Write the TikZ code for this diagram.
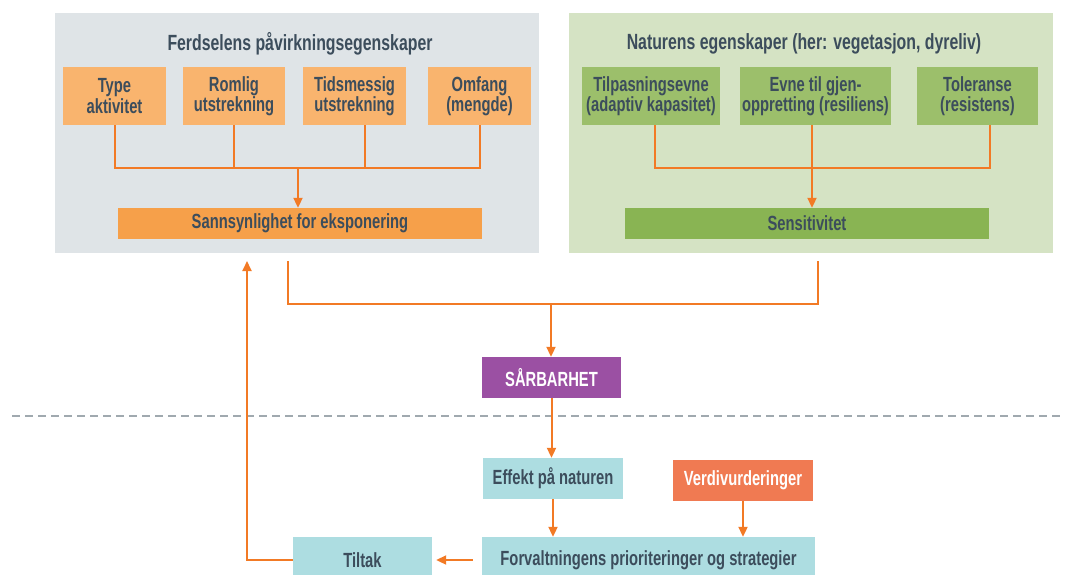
\documentclass[tikz,border=0pt]{standalone}
\usepackage{fontspec}
\setmainfont{Liberation Sans}[FakeStretch=0.72]
\usetikzlibrary{arrows.meta, positioning, calc}

\definecolor{panelgray}{HTML}{DFE4E7}
\definecolor{panelgreen}{HTML}{D5E3C4}
\definecolor{orlight}{HTML}{F9B46E}
\definecolor{orstrong}{HTML}{F6A04A}
\definecolor{grlight}{HTML}{9CBF6B}
\definecolor{grstrong}{HTML}{89B453}
\definecolor{lineor}{HTML}{F27A25}
\definecolor{sarbpurple}{HTML}{9B50A3}
\definecolor{tealbox}{HTML}{ADDDE1}
\definecolor{coral}{HTML}{F07A52}
\definecolor{textgray}{HTML}{3C4D5C}
\definecolor{dashgray}{HTML}{A0A9AF}

\begin{document}
\begin{tikzpicture}[x=1pt, y=-1pt,
  txt/.style={text=textgray, font=\fontsize{20.5}{20.5}\selectfont\bfseries, align=center, inner sep=0pt},
  heading/.style={txt, font=\fontsize{22}{24}\selectfont\bfseries},
  obox/.style={txt, fill=orlight, minimum height=58pt},
  gbox/.style={txt, fill=grlight, minimum height=58pt},
  widebox/.style={txt, minimum width=364pt, minimum height=31pt},
  flowbox/.style={txt, minimum width=140pt, minimum height=41pt},
  link/.style={draw=lineor, line width=2pt},
  flow/.style={link, -{Triangle[length=10pt,width=9pt]}},
  sepline/.style={draw=dashgray, line width=2.5pt, dash pattern=on 8pt off 5pt}
]
\useasboundingbox (0,0) rectangle (1065,574);
\clip (0,0) rectangle (1065,574);

% Panels
\fill[panelgray] (55,13) rectangle (539,253);
\fill[panelgreen] (569,13) rectangle (1053,253);

% Left panel: exposure
\node[heading] (ferdsel) at (300,44) {Ferdselens påvirkningsegenskaper};
\node[obox, minimum width=103pt] (type) at (114.5,96) {Type\\aktivitet};
\node[obox, minimum width=102pt] (romlig) at (234,96) {Romlig\\utstrekning};
\node[obox, minimum width=103pt] (tids) at (354.5,96) {Tidsmessig\\utstrekning};
\node[obox, minimum width=103pt] (omfang) at (479.5,96) {Omfang\\(mengde)};
\node[widebox, fill=orstrong] (sann) at (300,223.5) {Sannsynlighet for eksponering};

% Right panel: nature
\node[heading] (natur) at (804,44) {Naturens egenskaper (her: vegetasjon, dyreliv)};
\node[gbox, minimum width=138pt] (tilp) at (651,96) {Tilpasningsevne\\(adaptiv kapasitet)};
\node[gbox, minimum width=151pt] (evne) at (815.5,96) {Evne til gjen-\\oppretting (resiliens)};
\node[gbox, minimum width=121pt] (toler) at (977.5,96) {Toleranse\\(resistens)};
\node[widebox, fill=grstrong] (sens) at (807,223.5) {Sensitivitet};

% Lower chain
\node[flowbox, minimum width=139pt, fill=sarbpurple, text=white] (sarb) at (551.5,377.5) {SÅRBARHET};
\node[flowbox, fill=tealbox] (effekt) at (553,478.5) {Effekt på naturen};
\node[flowbox, fill=coral, text=white] (verdi) at (743,480) {Verdivurderinger};
\node[flowbox, minimum width=333pt, minimum height=46pt, fill=tealbox] (forv) at (648.5,560) {Forvaltningens prioriteringer og strategier};
\node[flowbox, minimum width=139pt, minimum height=46pt, fill=tealbox] (tiltak) at (362.5,560) {Tiltak};

% Separator
\draw[sepline] (12,416) -- (1065,416);

% Connectors, left panel
\coordinate (ojoin) at (298,168);
\draw[link] (type.south) |- (ojoin) -| (omfang.south);
\draw[link] (romlig.south) -- (romlig.south |- ojoin);
\draw[link] ([xshift=10pt]tids.south) -- ([xshift=10pt]tids.south |- ojoin);
\draw[flow] (ojoin) -- (ojoin |- sann.north);

% Connectors, right panel
\coordinate (gjoin) at (812,168);
\draw[link] ([xshift=4pt]tilp.south) |- (gjoin) -| ([xshift=12pt]toler.south);
\draw[flow] ([xshift=-3.5pt]evne.south) -- (gjoin |- sens.north);

% Connectors, lower part
\coordinate (fromleft) at (288,261);
\coordinate (fromright) at (818,261);
\coordinate (bjoin) at (551,304);
\draw[link] (fromleft) |- (bjoin) -| (fromright);
\draw[flow] (bjoin) -- (bjoin |- sarb.north);
\draw[flow] (sarb.south) -- (sarb.south |- effekt.north);
\draw[flow] (effekt.south) -- (effekt.south |- forv.north);
\draw[flow] (verdi.south) -- (verdi.south |- forv.north);
\draw[flow, shorten <=9pt, shorten >=4pt] (forv.west) -- (tiltak.east);
\coordinate (backtop) at (247,261);
\draw[flow] (tiltak.west) -| (backtop);
\end{tikzpicture}
\end{document}
